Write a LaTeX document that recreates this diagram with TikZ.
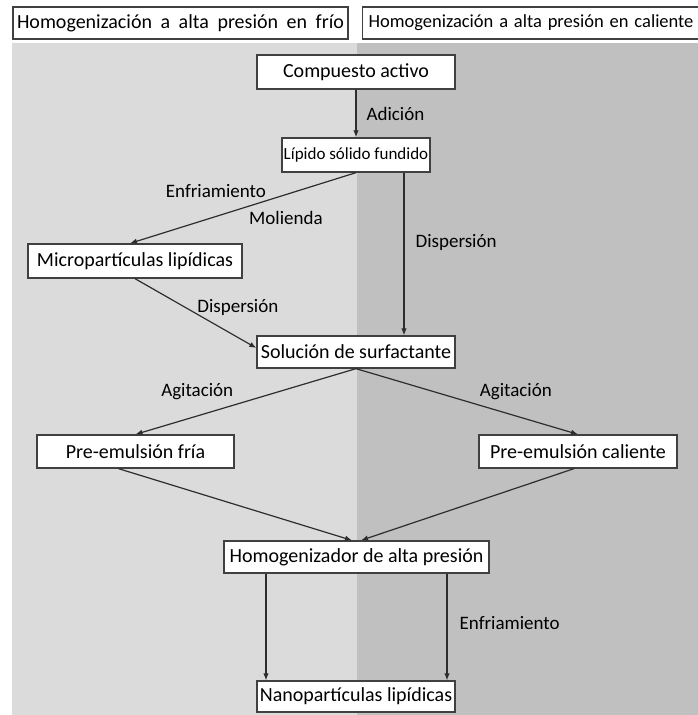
\documentclass[tikz,border=0pt]{standalone}
\usepackage{fontspec}
\setmainfont{Carlito}
\usetikzlibrary{arrows.meta,calc}
\definecolor{coldbg}{RGB}{219,219,219}
\definecolor{hotbg}{RGB}{192,192,192}
\definecolor{boxline}{RGB}{64,64,64}
\definecolor{flowline}{RGB}{45,45,45}
\begin{document}
\begin{tikzpicture}[x=1pt,y=-1pt,
	box/.style={draw=boxline,line width=1.3pt,fill=white,inner sep=0pt,align=center,font=\fontsize{20}{24}\selectfont},
	flow/.style={draw=flowline,line width=1.2pt,-{Latex[length=7pt,width=5.5pt]}},
	lbl/.style={inner sep=0pt,font=\fontsize{19}{22}\selectfont}]
	\useasboundingbox (0,0) rectangle (698,715);
	\fill [white] (0,0) rectangle (698,715);
	\fill [coldbg] (12,43) rectangle (357,715);
	\fill [hotbg] (357,43) rectangle (698,715);
	\node [box,minimum width=335pt,minimum height=32pt] (coldhead) at (180.5,23) {\fontsize{20}{24}\selectfont\makebox[327pt][s]{Homogenización a alta presión en frío}};
	\node [box,minimum width=337pt,minimum height=32pt] (hothead) at (531,23) {\fontsize{18.5}{22}\selectfont\makebox[325pt][s]{Homogenización a alta presión en caliente}};
	\node [box,minimum width=198pt,minimum height=34pt] (compuesto) at (356,72) {Compuesto activo};
	\node [box,minimum width=148pt,minimum height=34pt,font=\fontsize{17}{20}\selectfont] (lipido) at (356,155) {Lípido sólido fundido};
	\node [box,minimum width=214pt,minimum height=34pt] (micro) at (135,261) {Micropartículas lipídicas};
	\node [box,minimum width=198pt,minimum height=32pt] (solucion) at (356,352) {Solución de surfactante};
	\node [box,minimum width=197pt,minimum height=33pt] (fria) at (135.5,451.5) {Pre-emulsión fría};
	\node [box,minimum width=198pt,minimum height=33pt] (caliente) at (578,451.5) {Pre-emulsión caliente};
	\node [box,minimum width=265pt,minimum height=32pt] (homog) at (356.5,557) {Homogenizador de alta presión};
	\node [box,minimum width=198pt,minimum height=31pt] (nano) at (356,696.5) {Nanopartículas lipídicas};
	\draw [flow] (compuesto) -- (lipido) node [lbl,midway,anchor=west,xshift=10pt] {Adición};
	\draw [flow] (lipido.south) -- ($(micro.north)+(-5,0)$) node [lbl,pos=.62,yshift=25pt] {Enfriamiento} node [lbl,pos=.31,yshift=-23pt] {Molienda};
	\draw [flow] ($(lipido.south)+(48,0)$) -- ($(solucion.north)+(48,0)$) node [lbl,pos=.43,anchor=west,xshift=11pt] {Dispersión};
	\draw [flow] (micro.south) -- ($(solucion.west)+(0,-4)$) node [lbl,pos=.41,anchor=west,xshift=12pt] {Dispersión};
	\draw [flow] (solucion.south) -- (fria.north) node [lbl,pos=.72,yshift=24pt] {Agitación};
	\draw [flow] (solucion.south) -- (caliente.north) node [lbl,pos=.72,yshift=24pt] {Agitación};
	\draw [flow] ($(fria.south)+(-17,0)$) -- ($(homog.north)+(-4.5,0)$);
	\draw [flow] ($(caliente.south)+(-4,0)$) -- ($(homog.north)+(4.5,0)$);
	\draw [flow] ($(homog.south)+(-90.5,0)$) -- ($(nano.north)+(-90,0)$);
	\draw [flow] ($(homog.south)+(90.5,0)$) -- ($(nano.north)+(91,0)$) node [lbl,pos=.46,anchor=west,xshift=12pt] {Enfriamiento};
\end{tikzpicture}
\end{document}
